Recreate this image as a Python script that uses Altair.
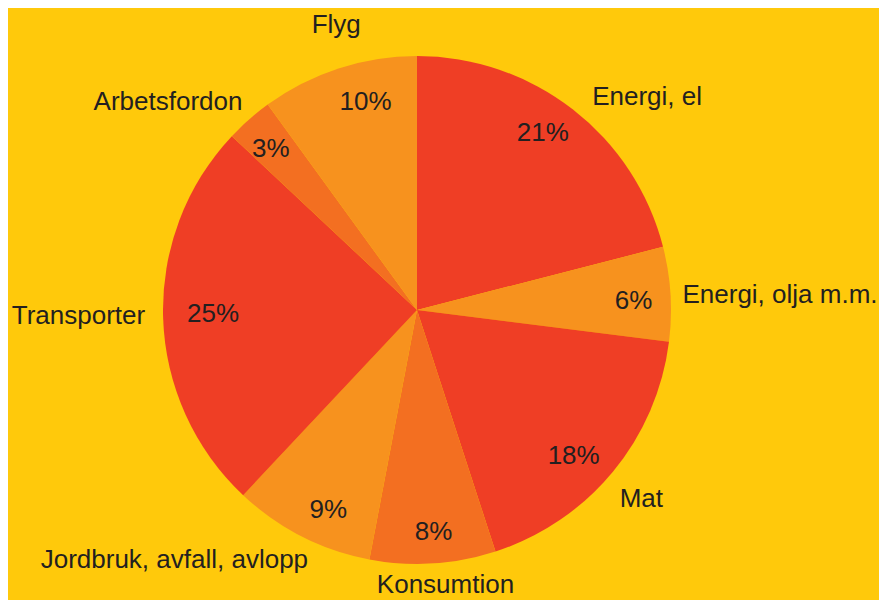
import altair as alt
import pandas as pd

categories = ["Energi, el", "Energi, olja m.m.", "Mat", "Konsumtion",
              "Jordbruk, avfall, avlopp", "Transporter", "Arbetsfordon", "Flyg"]
shares = [21, 6, 18, 8, 9, 25, 3, 10]
pct_labels = ["21%", "6%", "18%", "8%", "9%", "25%", "3%", "10%"]
slice_colors = ["#EF3E25", "#F7921E", "#EF3E25", "#F36F21",
                "#F7921E", "#EF3E25", "#F36F21", "#F7921E"]

df = pd.DataFrame({
    "cat": categories,
    "share": shares,
    "pct": pct_labels,
    "order": list(range(len(categories))),
})

CX, CY = 409, 302
R = 254
FONT = "Liberation Sans"
FS = 26
TXT = "#231F20"

theta_scale = alt.Scale(domain=[0, 100], range=[0, 6.283185307179586])

base = alt.Chart(df).transform_window(
    cum="sum(share)", sort=[alt.SortField("order")]
).transform_calculate(
    mid="datum.cum - datum.share / 2"
)

arcs = alt.Chart(df).mark_arc(outerRadius=R, strokeWidth=0).encode(
    theta=alt.Theta("share:Q", stack=True, scale=theta_scale),
    order=alt.Order("order:Q"),
    color=alt.Color("cat:N", scale=alt.Scale(domain=categories, range=slice_colors), legend=None),
    x=alt.value(CX), y=alt.value(CY),
)

# label placement styling
pct_style = {
    "Energi, el": (215, -6, -7),
    "Energi, olja m.m.": (215, 2, 4),
    "Mat": (215, -9, 9),
    "Konsumtion": (215, 3, 7),
    "Jordbruk, avfall, avlopp": (215, 9, 8),
    "Transporter": (215, 11, -3),
    "Arbetsfordon": (215, -4, 0),
    "Flyg": (215, 15, -4),
}
name_style = {
    "Energi, el": (276, "left", 6, 5),
    "Energi, olja m.m.": (276, "left", -10, 2),
    "Mat": (276, "left", -10, 13),
    "Konsumtion": (279, "center", 11, -3),
    "Jordbruk, avfall, avlopp": (273, "right", 15, 7),
    "Transporter": (273, "right", 1, -3),
    "Arbetsfordon": (273, "right", 6, -3),
    "Flyg": (297, "center", 11, -3),
}

layers = [arcs]
for cat in categories:
    r, dx, dy = pct_style[cat]
    layers.append(
        base.transform_filter(alt.datum.cat == cat).mark_text(
            radius=r, font=FONT, fontSize=FS, color=TXT, align="center",
            baseline="middle", dx=dx, dy=dy
        ).encode(
            theta=alt.Theta("mid:Q", stack=None, scale=theta_scale),
            text="pct:N",
            x=alt.value(CX), y=alt.value(CY),
        )
    )
    r, align, dx, dy = name_style[cat]
    layers.append(
        base.transform_filter(alt.datum.cat == cat).mark_text(
            radius=r, font=FONT, fontSize=FS, color=TXT, align=align,
            baseline="middle", dx=dx, dy=dy
        ).encode(
            theta=alt.Theta("mid:Q", stack=None, scale=theta_scale),
            text="cat:N",
            x=alt.value(CX), y=alt.value(CY),
        )
    )

chart = alt.layer(*layers).properties(
    width=871, height=592,
    autosize=alt.AutoSizeParams(type="none"),
    padding=0,
    background="#FFC90B",
).configure_view(stroke=None)

chart.save("out.html", embed_options={"renderer": "svg", "actions": False})
